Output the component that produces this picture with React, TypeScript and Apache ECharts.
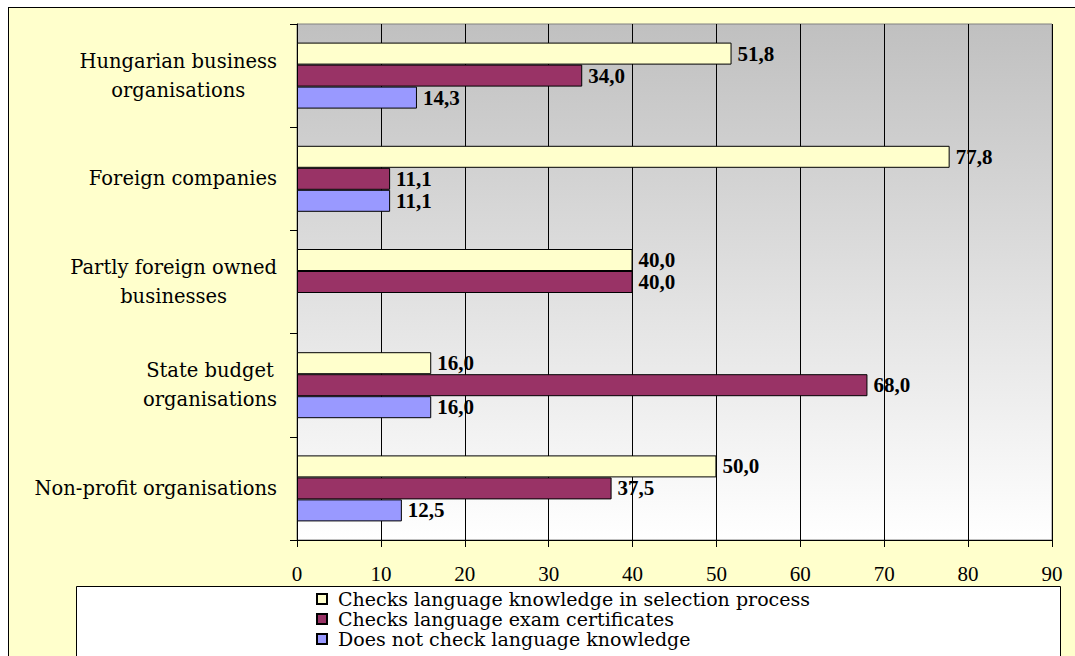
import React, { useEffect, useRef } from "react";
import * as echarts from "echarts";

const categories = [
  "Hungarian business\norganisations",
  "Foreign companies",
  "Partly foreign owned\nbusinesses",
  "State budget\norganisations",
  "Non-profit organisations",
];
const seriesNames = [
  "Checks language knowledge in selection process",
  "Checks language exam certificates",
  "Does not check language knowledge",
];
const selectionProcess = [51.8, 77.8, 40.0, 16.0, 50.0];
const examCertificates = [34.0, 11.1, 40.0, 68.0, 37.5];
const doesNotCheck: (number | null)[] = [14.3, 11.1, null, 16.0, 12.5];
const xMin = 0;
const xMax = 90;
const xStep = 10;

const colors = ["#FFFFCC", "#993366", "#9999FF"];

export default function App() {
  const ref = useRef<HTMLDivElement>(null);
  useEffect(() => {
    if (!ref.current) return;
    const chart = echarts.init(ref.current, undefined, { renderer: "svg" });
    const labelFmt = (p: any) =>
      p.value == null ? "" : Number(p.value).toFixed(1).replace(".", ",");
    const mkSeries = (name: string, data: (number | null)[], color: string) => ({
      name,
      type: "bar",
      data,
      barWidth: 22,
      barGap: "0%",
      itemStyle: { color, borderColor: "#000", borderWidth: 1 },
      label: {
        show: true,
        position: "right",
        distance: 6,
        formatter: labelFmt,
        fontFamily: "Liberation Serif",
        fontWeight: "bold",
        fontSize: 21,
        lineHeight: 21,
        color: "#000",
      },
    });
    chart.setOption({
      animation: false,
      backgroundColor: "transparent",
      grid: {
        left: 297,
        top: 24,
        width: 755,
        height: 516,
        show: true,
        borderColor: "#808080",
        borderWidth: 1,
        backgroundColor: new echarts.graphic.LinearGradient(0, 0, 0, 1, [
          { offset: 0, color: "#C0C0C0" },
          { offset: 1, color: "#FFFFFF" },
        ]),
      },
      xAxis: {
        type: "value",
        min: xMin,
        max: xMax,
        interval: xStep,
        axisLine: { show: true, lineStyle: { color: "#000", width: 1 } },
        axisTick: { show: true, length: 7, lineStyle: { color: "#000" } },
        splitLine: { show: true, lineStyle: { color: "#000", width: 1 } },
        axisLabel: {
          margin: 23,
          fontFamily: "Liberation Serif",
          fontSize: 21,
          color: "#000",
        },
      },
      yAxis: {
        type: "category",
        inverse: true,
        data: categories,
        axisLine: { show: true, lineStyle: { color: "#000", width: 1 } },
        axisTick: { show: true, length: 7, lineStyle: { color: "#000" } },
        splitLine: { show: false },
        axisLabel: {
          margin: 20,
          align: "right",
          formatter: (v: string) =>
            v
              .split("\n")
              .map((l) => `{c|${l}}`)
              .join("\n"),
          rich: {
            c: {
              align: "center",
              fontFamily: "DejaVu Serif",
              fontSize: 19.5,
              lineHeight: 29,
              color: "#000",
            },
          },
        },
      },
      legend: {
        orient: "vertical",
        left: 316,
        top: 589,
        padding: 0,
        itemGap: 0,
        itemWidth: 10,
        itemHeight: 10,
        icon: "rect",
        selectedMode: false,
        data: seriesNames,
        textStyle: {
          fontFamily: "DejaVu Serif",
          fontSize: 19,
          lineHeight: 20,
          color: "#000",
          padding: [0, 0, 0, 6],
        },
      },
      graphic: [
        {
          type: "rect",
          z: 1,
          shape: { x: 76.5, y: 586.5, width: 984, height: 90 },
          style: { fill: "#FFFFFF", stroke: "#000", lineWidth: 1 },
        },
      ],
      series: [
        mkSeries(seriesNames[0], selectionProcess, colors[0]),
        mkSeries(seriesNames[1], examCertificates, colors[1]),
        mkSeries(seriesNames[2], doesNotCheck, colors[2]),
      ],
    });
    return () => chart.dispose();
  }, []);
  return (
    <div
      style={{
        position: "fixed",
        left: 0,
        top: 0,
        width: 1075,
        height: 656,
        background: "#FFFFFF",
        overflow: "hidden",
      }}
    >
      <div
        style={{
          position: "absolute",
          left: 8,
          top: 7,
          width: 1067,
          height: 649,
          boxSizing: "border-box",
          background: "#FFFFCC",
          borderTop: "1px solid #000",
          borderLeft: "1px solid #000",
        }}
      />
      <div
        ref={ref}
        style={{ position: "absolute", left: 0, top: 0, width: 1075, height: 656 }}
      />
    </div>
  );
}
